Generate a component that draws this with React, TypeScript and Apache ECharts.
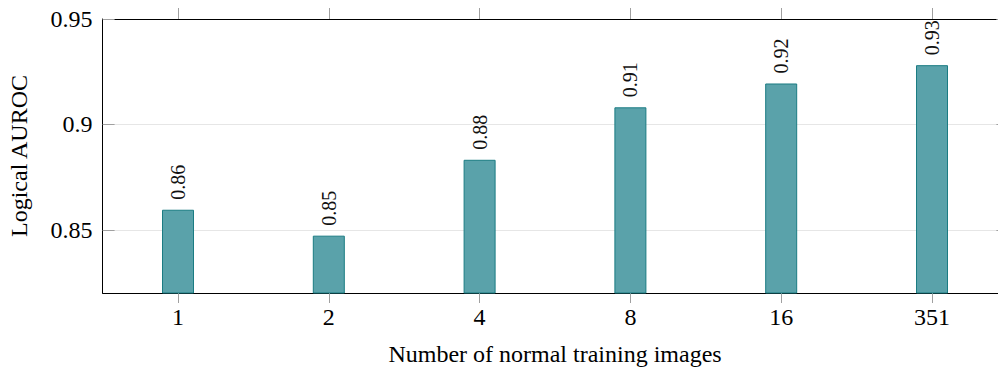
import React, { useEffect, useRef } from "react";
import * as echarts from "echarts";

const categories = ["1", "2", "4", "8", "16", "351"];
const auroc = [0.8595, 0.8472, 0.8832, 0.9081, 0.9194, 0.9281];
const barLabels = ["0.86", "0.85", "0.88", "0.91", "0.92", "0.93"];
const yTicks = [0.85, 0.9, 0.95];
const yMin = 0.82;
const yMax = 0.95;

const FONT = "'Liberation Serif', 'Times New Roman', serif";

export default function App() {
  const ref = useRef<HTMLDivElement>(null);
  useEffect(() => {
    if (!ref.current) return;
    const chart = echarts.init(ref.current, null, { renderer: "svg" });
    chart.setOption({
      animation: false,
      textStyle: { fontFamily: FONT },
      grid: { left: 102.6, top: 19, width: 904.8, bottom: 75, containLabel: false, outerBoundsMode: "none" },
      xAxis: [
        {
          type: "category",
          data: categories,
          position: "bottom",
          boundaryGap: true,
          name: "Number of normal training images",
          nameLocation: "middle",
          nameGap: 49,
          nameTextStyle: { fontFamily: FONT, fontSize: 24, color: "#000" },
          axisLine: { show: true, lineStyle: { color: "#000", width: 1 } },
          axisTick: { show: true, alignWithLabel: true, inside: false, length: 10, lineStyle: { color: "#a0a0a0", width: 1 } },
          axisLabel: { fontFamily: FONT, fontSize: 24, color: "#000", margin: 12 },
          splitLine: { show: false },
        },
        {
          type: "category",
          data: categories,
          position: "top",
          boundaryGap: true,
          axisLine: { show: true, lineStyle: { color: "#000", width: 1 } },
          axisTick: { show: true, alignWithLabel: true, inside: false, length: 11, lineStyle: { color: "#a0a0a0", width: 1 } },
          axisLabel: { show: false },
          splitLine: { show: false },
        },
      ],
      yAxis: [
        {
          type: "value",
          min: yMin,
          max: yMax,
          position: "left",
          name: "Logical AUROC",
          nameLocation: "middle",
          nameRotate: 90,
          nameGap: 72,
          nameTextStyle: { fontFamily: FONT, fontSize: 24, color: "#000" },
          axisLine: { show: true, lineStyle: { color: "#000", width: 1 } },
          axisTick: { show: true, inside: true, length: 12, customValues: yTicks, lineStyle: { color: "#a0a0a0", width: 1 } },
          axisLabel: {
            fontFamily: FONT,
            fontSize: 24,
            color: "#000",
            margin: 10,
            customValues: yTicks,
            formatter: (v: number) => String(Number(v.toFixed(2))),
          },
          splitLine: { show: true, lineStyle: { color: "#e6e6e6", width: 1 } },
        },
        {
          type: "value",
          min: yMin,
          max: yMax,
          position: "right",
          axisLine: { show: true, lineStyle: { color: "#000", width: 1 } },
          axisTick: { show: true, inside: true, length: 11, customValues: yTicks, lineStyle: { color: "#a0a0a0", width: 1 } },
          axisLabel: { show: false, customValues: yTicks },
          splitLine: { show: false },
        },
      ],
      series: [
        {
          type: "bar",
          xAxisIndex: 0,
          yAxisIndex: 0,
          data: auroc,
          barWidth: 32,
          itemStyle: { color: "#5aa2aa", borderColor: "#1b7c83", borderWidth: 1 },
          label: {
            show: true,
            position: "top",
            rotate: 90,
            align: "left",
            verticalAlign: "middle",
            distance: 10,
            fontFamily: FONT,
            fontSize: 20,
            color: "#111",
            formatter: (p: any) => barLabels[p.dataIndex],
          },
        },
      ],
    });
    return () => chart.dispose();
  }, []);
  return (
    <div style={{ position: "fixed", left: 0, top: 0, width: 998, height: 368, overflow: "hidden", background: "#fff" }}>
      <div ref={ref} style={{ width: 1020, height: 368 }} />
    </div>
  );
}
